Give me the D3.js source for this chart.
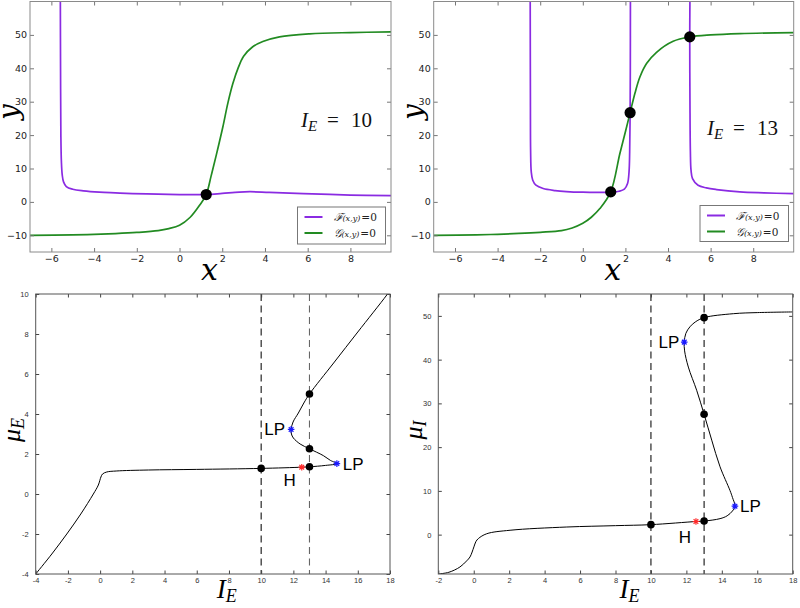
<!DOCTYPE html>
<html><head><meta charset="utf-8">
<script src="https://cdn.jsdelivr.net/npm/d3@7"></script>
<style>body{margin:0;background:#fff}svg{display:block}</style>
</head><body>
<svg id="c" width="800" height="608"></svg>
<script>
// ---------- DATA ----------
const IE_values = [10, 13];
const xTicksTop = [-6, -4, -2, 0, 2, 4, 6, 8];
const yTicksTop = [-10, 0, 10, 20, 30, 40, 50];
const xTicksBL = [-4, -2, 0, 2, 4, 6, 8, 10, 12, 14, 16, 18];
const yTicksBL = [-4, -2, 0, 2, 4, 6, 8, 10];
const xTicksBR = [-2, 0, 2, 4, 6, 8, 10, 12, 14, 16, 18];
const yTicksBR = [0, 10, 20, 30, 40, 50];

// I_E = 10 nullclines
const fNull10 = [[-5.58,62],[-5.57,40],[-5.555,20],[-5.53,12],[-5.49,8],[-5.43,6],[-5.3,4.6],[-5.0,3.8],[-4.5,3.3],[-3.75,2.9],[-3,2.7],[-2.2,2.5],[-1,2.3],[0,2.2],[1.25,2.2],[2.0,2.55],[2.8,2.95],[3.3,3.05],[4.2,2.85],[5.8,2.5],[8,2.05],[9.9,1.85]];
const gNull10 = [[-7,-10.0],[-5,-9.9],[-4,-9.75],[-3,-9.5],[-2,-9.15],[-1,-8.6],[-0.5,-8.0],[0,-7.0],[0.5,-4.6],[0.94,-1],[1.25,2.2],[1.48,7.8],[1.72,14],[2.03,22.5],[2.26,29.5],[2.5,35.5],[2.75,40.2],[3.0,43.6],[3.4,46.3],[3.9,48.0],[4.68,49.4],[6.09,50.3],[8,50.7],[9.9,50.9]];
const eq10 = [[1.25,2.2]];

// I_E = 13 nullclines
const fNull13a = [[-2.47,62],[-2.46,30],[-2.45,15],[-2.42,9],[-2.35,6.5],[-2.2,5.0],[-1.86,4.0],[-1.3,3.4],[-0.77,3.1],[0,2.9],[0.8,2.85],[1.31,2.95],[1.7,3.2],[1.95,3.8],[2.1,5.5],[2.17,9],[2.2,15],[2.22,26.7],[2.23,40],[2.235,62]];
const fNull13b = [[5.03,62],[5.02,49.4],[5.03,30],[5.05,15],[5.08,9.5],[5.15,7],[5.41,5.0],[5.8,4.2],[6.28,3.7],[7.37,3.0],[8.5,2.7],[9.9,2.45]];
const gNull13 = [[-7,-10],[-5,-9.85],[-4,-9.7],[-3,-9.45],[-2,-9.1],[-1,-8.6],[-0.5,-7.8],[0,-6.4],[0.4,-4.6],[0.8,-2.0],[1.31,3.0],[1.74,14.5],[2.0,21],[2.22,26.7],[2.45,32.6],[2.68,37.4],[3.0,41.5],[3.46,44.8],[4.24,48.1],[5.02,49.4],[6,50.0],[7.37,50.4],[9.9,50.7]];
const eq13 = [[1.31,3.0],[2.22,26.7],[5.02,49.4]];

// bifurcation diagrams
const branchE = [[-4,-4],[-3,-3.0],[-2.07,-2.0],[-1.2,-1.0],[-0.42,0],[-0.11,0.45],[0.05,0.85],[0.15,1.0],[0.41,1.1],[1,1.15],[3,1.2],[6,1.23],[10,1.28],[12.52,1.34],[13,1.36],[14,1.43],[14.7,1.52],[14.3,1.68],[13.86,1.92],[13,2.26],[12.42,2.5],[12.0,2.8],[11.88,3.0],[11.86,3.23],[11.98,3.6],[12.31,4.05],[12.65,4.55],[13,5.0],[14.5,6.55],[16,8.1],[17.8,9.95],[18.2,10.4]];
const eqE = [[10,1.28],[13,1.36],[13,2.26],[13,5.0]];
const lpE = [[14.7,1.52],[11.86,3.23]];
const hopfE = [[12.52,1.34]];

const branchI = [[-2,-9],[-1.4,-8.6],[-0.78,-7.4],[-0.4,-6.0],[-0.21,-5.1],[0.01,-2.8],[0.12,-1.6],[0.26,-0.9],[0.73,0.2],[2.05,1.0],[5.25,1.74],[8,2.05],[10,2.28],[12.54,3.0],[13,3.1],[13.9,3.65],[14.3,4.3],[14.6,5.4],[14.74,6.5],[14.6,8.5],[14.46,10.1],[13.9,15.5],[13.43,21.6],[13.0,27.5],[12.58,33.0],[12.11,38.3],[11.9,42],[11.88,44.0],[11.97,46],[12.2,47.5],[12.5,48.6],[13,49.6],[14.65,50.5],[16,50.75],[18,50.9]];
const eqI = [[10,2.28],[13,3.1],[13,27.5],[13,49.6]];
const lpI = [[14.74,6.5],[11.88,44.0]];
const hopfI = [[12.54,3.0]];

// ---------- DRAWING ----------
const svg = d3.select("#c");
const PURPLE = "#8a2be2", GREEN = "#228b22";
const starSym = { draw(ctx, size) { const r = Math.sqrt(size)/2, d = r*0.7071;
  ctx.moveTo(-r,0); ctx.lineTo(r,0); ctx.moveTo(0,-r); ctx.lineTo(0,r);
  ctx.moveTo(-d,-d); ctx.lineTo(d,d); ctx.moveTo(-d,d); ctx.lineTo(d,-d); } };

function panel(o) {
  const x = d3.scaleLinear().domain(o.xd).range([o.l, o.r]);
  const y = d3.scaleLinear().domain(o.yd).range([o.b, o.t]);
  const g = svg.append("g");
  const cid = "clip" + o.id;
  svg.append("clipPath").attr("id", cid).append("rect")
    .attr("x", o.l).attr("y", o.t).attr("width", o.r - o.l).attr("height", o.b - o.t);
  const plot = g.append("g").attr("clip-path", `url(#${cid})`);
  const fmt = o.fmt;
  const ax = [
    [d3.axisBottom(x).tickValues(o.xt).tickFormat(fmt), `translate(0,${o.b})`, o.xpad],
    [d3.axisLeft(y).tickValues(o.yt).tickFormat(fmt), `translate(${o.l},0)`, o.ypad],
    [d3.axisTop(x).tickValues(o.xt).tickFormat(""), `translate(0,${o.t})`, 0],
    [d3.axisRight(y).tickValues(o.yt).tickFormat(""), `translate(${o.r},0)`, 0]
  ];
  ax.forEach(([a, tr, pad]) => {
    const gg = g.append("g").attr("transform", tr).call(a.tickSize(-o.tick).tickPadding(pad));
    gg.select(".domain").remove();
    gg.selectAll("line").attr("stroke", o.tickColor);
    gg.selectAll("text").attr("font-family", o.tickFont).attr("font-size", o.tickSize).attr("fill", o.labelColor);
  });
  g.append("rect").attr("x", o.l).attr("y", o.t).attr("width", o.r - o.l).attr("height", o.b - o.t)
    .attr("fill", "none").attr("stroke", o.frame).attr("stroke-width", 1);
  return { x, y, g, plot, o };
}

const lineGen = (p) => d3.line().x(d => p.x(d[0])).y(d => p.y(d[1])).curve(d3.curveCatmullRom.alpha(0.5));

const topCfg = { xd: [-7, 9.9], yd: [-15, 60], xt: xTicksTop, yt: yTicksTop, t: 1.5, b: 252, tick: 4,
  xpad: 3, ypad: 3, tickFont: "DejaVu Sans", tickSize: 9.5, labelColor: "#222", tickColor: "#777", frame: "#8a8a8a",
  fmt: d3.format("d") };
const botCfg = { t: 294, b: 574, tick: 3.5, xpad: 4, ypad: 7, tickFont: "Liberation Sans, Arial", tickSize: 7.5,
  labelColor: "#333", tickColor: "#444", frame: "#555", fmt: d => String(d) };

function phasePanel(oo, fList, gData, eqs, ie, legendBox, ieText) {
  const p = panel(Object.assign({}, topCfg, oo));
  const o = p.o;
  fList.forEach(f => p.plot.append("path").attr("d", lineGen(p)(f)).attr("fill", "none").attr("stroke", PURPLE).attr("stroke-width", 1.7));
  p.plot.append("path").attr("d", lineGen(p)(gData)).attr("fill", "none").attr("stroke", GREEN).attr("stroke-width", 1.7);
  p.plot.selectAll("circle.eq").data(eqs).join("circle").attr("cx", d => p.x(d[0])).attr("cy", d => p.y(d[1])).attr("r", 5.6).attr("fill", "#000");
  // axis labels
  p.g.append("text").attr("x", (o.l + o.r) / 2 - 1).attr("y", 280).attr("text-anchor", "middle")
    .attr("font-family", "DejaVu Serif, serif").attr("font-style", "italic").attr("font-size", 30).text("x");
  p.g.append("text").attr("transform", `translate(${o.l - 12},${112}) rotate(-90)`).attr("text-anchor", "middle")
    .attr("font-family", "DejaVu Serif, serif").attr("font-style", "italic").attr("font-size", 28).text("y");
  // I_E label
  const t = p.g.append("text").attr("font-family", "Liberation Serif, serif").attr("font-size", 21).attr("fill", "#111");
  t.append("tspan").attr("x", ieText[0]).attr("y", ieText[1]).attr("font-style", "italic").text("I");
  t.append("tspan").attr("x", ieText[0] + 7).attr("y", ieText[1] + 4).attr("font-style", "italic").attr("font-size", 15).text("E");
  t.append("tspan").attr("x", ieText[0] + 26).attr("y", ieText[1]).text("=");
  t.append("tspan").attr("x", ieText[0] + 50).attr("y", ieText[1]).text(String(ie));
  // legend
  const [lx, ly, lw, lh] = legendBox;
  p.g.append("rect").attr("x", lx).attr("y", ly).attr("width", lw).attr("height", lh).attr("fill", "#fff").attr("stroke", "#777").attr("stroke-width", 1);
  [["\u2131", PURPLE, 10], ["\u{1D4A2}", GREEN, 26]].forEach(([sym, col, dy]) => {
    p.g.append("line").attr("x1", lx + 7).attr("x2", lx + 25).attr("y1", ly + dy).attr("y2", ly + dy).attr("stroke", col).attr("stroke-width", 2);
    const tt = p.g.append("text").attr("x", lx + 36).attr("y", ly + dy + 4).attr("font-family", "DejaVu Serif, serif").attr("font-size", 11).attr("fill", "#222");
    tt.append("tspan").attr("font-style", "italic").text(sym);
    tt.append("tspan").attr("font-size", 8).attr("font-style", "italic").text("(x,y)");
    tt.append("tspan").attr("font-size", 10.5).attr("dx", 1).text("=0");
  });
}

phasePanel({ id: 1, l: 30, r: 391 }, [fNull10], gNull10, eq10, IE_values[0], [297.5, 207, 88, 37], [301, 127]);
phasePanel({ id: 2, l: 433.7, r: 793.7 }, [fNull13a, fNull13b], gNull13, eq13, IE_values[1], [700, 205.5, 88.5, 36], [707, 135]);

function bifPanel(oo, branch, eqs, lps, hopf, yLab, dashCols, lpOff, hOff) {
  const p = panel(Object.assign({}, botCfg, oo));
  const o = p.o;
  IE_values.forEach((v, i) => {
    p.plot.append("line").attr("x1", p.x(v)).attr("x2", p.x(v)).attr("y1", o.t).attr("y2", o.b)
      .attr("stroke", dashCols[i]).attr("stroke-width", 1.1).attr("stroke-dasharray", "7,4.5");
  });
  p.plot.append("path").attr("d", lineGen(p)(branch)).attr("fill", "none").attr("stroke", "#000").attr("stroke-width", 1);
  p.plot.selectAll("circle.eq").data(eqs).join("circle").attr("cx", d => p.x(d[0])).attr("cy", d => p.y(d[1])).attr("r", 3.8).attr("fill", "#000");
  const sym = d3.symbol().type(starSym).size(44);
  p.plot.selectAll("path.lp").data(lps).join("path").attr("transform", d => `translate(${p.x(d[0])},${p.y(d[1])})`).attr("d", sym).attr("stroke", "#1a1aff").attr("stroke-width", 1.2);
  p.plot.selectAll("path.h").data(hopf).join("path").attr("transform", d => `translate(${p.x(d[0])},${p.y(d[1])})`).attr("d", sym).attr("stroke", "#ff2a2a").attr("stroke-width", 1.2);
  const lab = (px, py, s, anchor) => p.g.append("text").attr("x", px).attr("y", py).attr("text-anchor", anchor)
    .attr("font-family", "Liberation Sans, Arial, sans-serif").attr("font-size", 17).attr("fill", "#000").text(s);
  lab(p.x(lps[0][0]) + lpOff[0][0], p.y(lps[0][1]) + lpOff[0][1], "LP", "start");
  lab(p.x(lps[1][0]) + lpOff[1][0], p.y(lps[1][1]) + lpOff[1][1], "LP", "end");
  lab(p.x(hopf[0][0]) + hOff[0], p.y(hopf[0][1]) + hOff[1], "H", "middle");
  // axis labels
  const xl = p.g.append("text").attr("x", (o.l + o.r) / 2 + 14).attr("y", 598).attr("text-anchor", "middle")
    .attr("font-family", "Liberation Serif, serif").attr("font-style", "italic").attr("font-size", 27);
  xl.append("tspan").text("I");
  xl.append("tspan").attr("font-size", 18).attr("dy", 4).text("E");
  const yl = p.g.append("text").attr("transform", `translate(${o.l - 16},430) rotate(-90)`).attr("text-anchor", "middle")
    .attr("font-family", "Liberation Serif, serif").attr("font-style", "italic").attr("font-size", 26);
  yl.append("tspan").text("\u03bc");
  yl.append("tspan").attr("font-size", 18).attr("dy", 4).text(yLab);
}

bifPanel({ id: 3, l: 35.7, r: 390, xd: [-4, 18], yd: [-4, 10], xt: xTicksBL, yt: yTicksBL },
  branchE, eqE, lpE, hopfE, "E", ["#111", "#666"], [[6, 6], [-6, 6]], [-12, 19]);
bifPanel({ id: 4, l: 438.3, r: 792.7, xd: [-2, 18], yd: [-9, 55], xt: xTicksBR, yt: yTicksBR },
  branchI, eqI, lpI, hopfI, "I", ["#111", "#111"], [[5, 6], [-5, 6]], [-11, 21]);
</script>
</body></html>
